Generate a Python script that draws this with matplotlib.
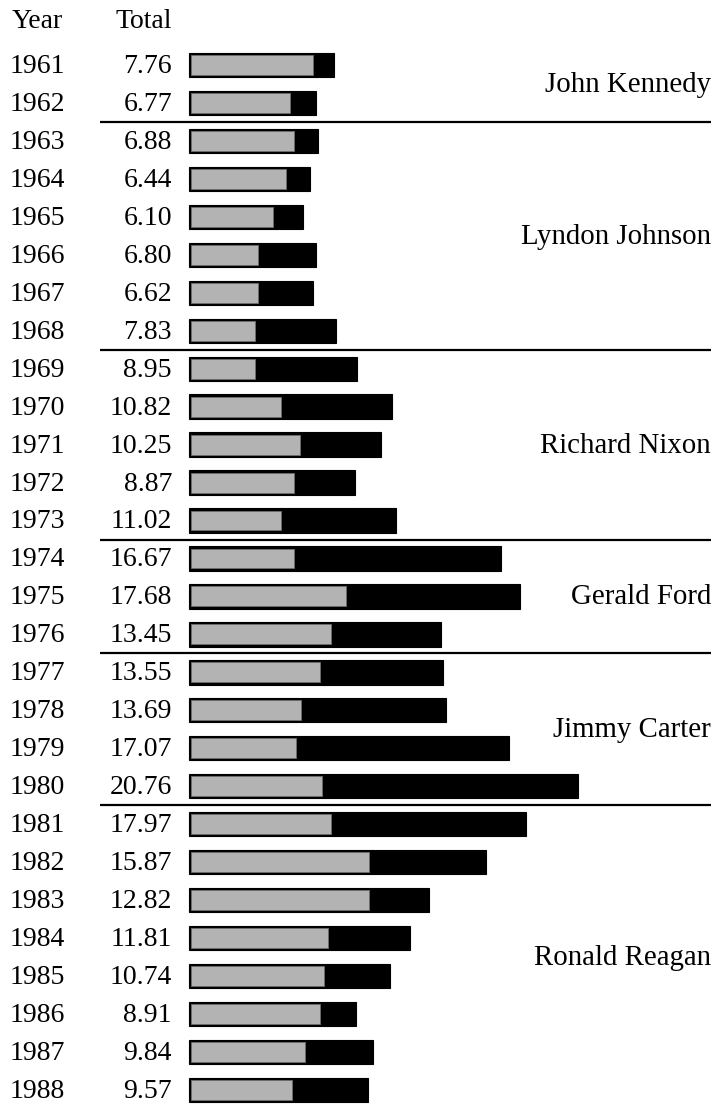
import numpy as np
import matplotlib
matplotlib.use("Agg")
import matplotlib.pyplot as plt
from matplotlib.transforms import blended_transform_factory

years = list(range(1961, 1989))
totals = [7.76, 6.77, 6.88, 6.44, 6.10, 6.80, 6.62, 7.83, 8.95, 10.82,
          10.25, 8.87, 11.02, 16.67, 17.68, 13.45, 13.55, 13.69, 17.07, 20.76,
          17.97, 15.87, 12.82, 11.81, 10.74, 8.91, 9.84, 9.57]
# gray part of each bar
unemployment = [6.6, 5.4, 5.6, 5.2, 4.5, 3.7, 3.7, 3.5, 3.5, 4.9,
                5.9, 5.6, 4.9, 5.6, 8.4, 7.6, 7.0, 6.0, 5.7, 7.1,
                7.6, 9.6, 9.6, 7.4, 7.2, 7.0, 6.2, 5.5]
presidents = ["John Kennedy", "Lyndon Johnson", "Richard Nixon",
              "Gerald Ford", "Jimmy Carter", "Ronald Reagan"]
terms = [(1961, 1962), (1963, 1968), (1969, 1973), (1974, 1976),
         (1977, 1980), (1981, 1988)]

W, H = 715, 1104
px = 18.74          # pixels per unit
x0 = 189            # bar origin in pixels
row0, dy = 65, 37.96

plt.rcParams['font.family'] = ['Liberation Serif', 'DejaVu Serif']
fig = plt.figure(figsize=(W / 100, H / 100), dpi=100)
ax = fig.add_axes([0, 0, 1, 1])
ax.set_xlim(-x0 / px, (W - x0) / px)
ax.set_ylim((H - row0) / dy, -row0 / dy)
ax.axis("off")

pos = np.arange(len(years))
bh = 0.64
ix, iy = 2.2 / px, 2.2 / dy
ax.barh(pos, totals, height=bh, color="black", edgecolor="black", linewidth=0.8)
ax.barh(pos, np.array(unemployment) - ix, left=ix, height=bh - 2 * iy,
        color="#b3b3b3", edgecolor="#6e6e6e", linewidth=0.6)

tr = blended_transform_factory(ax.transAxes, ax.transData)
fs = 20
off = 0.21   # baseline offset below row centre
ax.text(12 / W, -1.18 + off, "Year", transform=tr, fontsize=fs, ha="left", va="baseline")
ax.text(172 / W, -1.18 + off, "Total", transform=tr, fontsize=fs, ha="right", va="baseline")
for i, (yr, t) in enumerate(zip(years, totals)):
    ax.text(10 / W, i + off, str(yr), transform=tr, fontsize=fs, ha="left", va="baseline")
    ax.text(172 / W, i + off, f"{t:.2f}", transform=tr, fontsize=fs, ha="right", va="baseline")

for name, (a, b) in zip(presidents, terms):
    i0, i1 = years.index(a), years.index(b)
    ax.text(711 / W, (i0 + i1) / 2 + off, name, transform=tr, fontsize=20.8,
            ha="right", va="baseline")
    if i1 < len(years) - 1:
        ax.plot([100 / W, 711 / W], [i1 + 0.5, i1 + 0.5], transform=tr,
                color="black", linewidth=1.6, solid_capstyle="butt")

fig.savefig("out.png", dpi=100)
